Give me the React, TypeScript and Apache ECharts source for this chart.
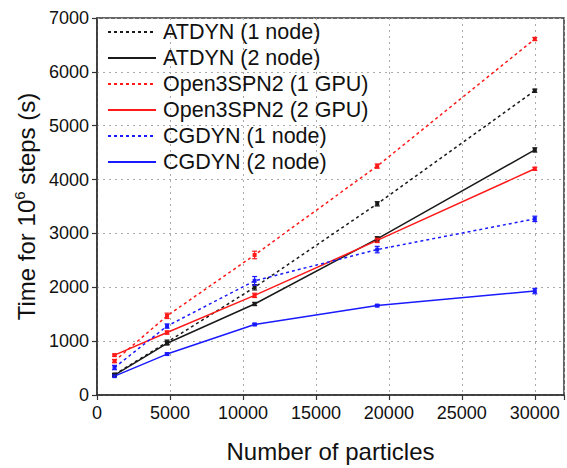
import React, { useEffect, useRef } from 'react';
import * as echarts from 'echarts';

const particles = [1200, 4800, 10800, 19200, 30000];
const seriesNames = [
  'ATDYN (1 node)',
  'ATDYN (2 node)',
  'Open3SPN2 (1 GPU)',
  'Open3SPN2 (2 GPU)',
  'CGDYN (1 node)',
  'CGDYN (2 node)',
];
const atdyn1 = [380, 980, 2000, 3550, 5650];
const atdyn2 = [370, 960, 1690, 2900, 4550];
const open1 = [630, 1470, 2600, 4250, 6610];
const open2 = [740, 1160, 1850, 2870, 4200];
const cgdyn1 = [510, 1280, 2120, 2700, 3270];
const cgdyn2 = [350, 760, 1310, 1660, 1930];
const atdyn1Err = [20, 40, 50, 40, 30];
const atdyn2Err = [20, 30, 30, 40, 40];
const open1Err = [30, 50, 70, 40, 30];
const open2Err = [20, 30, 40, 40, 30];
const cgdyn1Err = [40, 40, 80, 60, 50];
const cgdyn2Err = [20, 20, 20, 20, 50];
const xTicks = [0, 5000, 10000, 15000, 20000, 25000, 30000];

const values = [atdyn1, atdyn2, open1, open2, cgdyn1, cgdyn2];
const errors = [atdyn1Err, atdyn2Err, open1Err, open2Err, cgdyn1Err, cgdyn2Err];
const colors = ['#1a1a1a', '#1a1a1a', '#ff1a1a', '#ff1a1a', '#1a1aff', '#1a1aff'];
const dotted = [true, false, true, false, true, false];

const FONT = "'Liberation Sans', Arial, Helvetica, sans-serif";

export default function App() {
  const ref = useRef<HTMLDivElement>(null);
  useEffect(() => {
    if (!ref.current) return;
    const chart = echarts.init(ref.current, null, { renderer: 'svg' });
    const lineSeries = seriesNames.map((name, i) => ({
      name,
      type: 'line',
      data: particles.map((x, j) => [x, values[i][j]]),
      symbol: 'rect',
      symbolSize: 4,
      itemStyle: { color: colors[i] },
      lineStyle: {
        color: colors[i],
        width: 1.5,
        type: dotted[i] ? [3, 3] : 'solid',
      },
      z: 3,
    }));
    const errSeries = seriesNames.map((name, i) => ({
      type: 'custom',
      name: name + ' err',
      data: particles.map((x, j) => [x, values[i][j], errors[i][j]]),
      z: 4,
      renderItem: (params: any, api: any) => {
        const x = api.value(0);
        const y = api.value(1);
        const e = api.value(2);
        const top = api.coord([x, y + e]);
        const bot = api.coord([x, y - e]);
        const cap = 2.5;
        const st = { stroke: colors[i], lineWidth: 1.2 };
        return {
          type: 'group',
          children: [
            { type: 'line', shape: { x1: top[0], y1: top[1], x2: bot[0], y2: bot[1] }, style: st },
            { type: 'line', shape: { x1: top[0] - cap, y1: top[1], x2: top[0] + cap, y2: top[1] }, style: st },
            { type: 'line', shape: { x1: bot[0] - cap, y1: bot[1], x2: bot[0] + cap, y2: bot[1] }, style: st },
          ],
        };
      },
    }));
    chart.setOption({
      animation: false,
      backgroundColor: '#fff',
      grid: {
        left: 97,
        right: 2,
        top: 18,
        bottom: 73,
        show: true,
        borderColor: '#333',
        borderWidth: 1.5,
        backgroundColor: 'transparent',
      },
      legend: {
        data: seriesNames,
        orient: 'vertical',
        left: 107,
        top: 21,
        padding: 0,
        itemWidth: 48,
        itemHeight: 14,
        itemGap: 4,
        itemStyle: { opacity: 0 },
        textStyle: { fontSize: 21.5, fontFamily: FONT, color: '#111', lineHeight: 22, padding: [0, 0, 0, 2] },
        selectedMode: false,
      },
      xAxis: {
        type: 'value',
        min: 0,
        max: 32000,
        interval: 5000,
        name: 'Number of particles',
        nameLocation: 'middle',
        nameGap: 44,
        nameTextStyle: { fontSize: 24, fontFamily: FONT, color: '#111' },
        axisLine: { show: true, onZero: false, lineStyle: { color: '#333', width: 1.5 } },
        axisTick: { show: true, inside: false, length: 5, lineStyle: { color: '#333', width: 1.2 } },
        axisLabel: {
          fontSize: 18,
          fontFamily: FONT,
          color: '#111',
          margin: 9,
          formatter: (v: number) => (xTicks.includes(v) ? String(v) : ''),
        },
        splitLine: { show: true, lineStyle: { color: '#aaa', type: [2, 4], width: 1 } },
      },
      yAxis: {
        type: 'value',
        min: 0,
        max: 7000,
        interval: 1000,
        name: '{t|Time for 10}{s|6}{t| steps (s)}',
        nameLocation: 'middle',
        nameRotate: 90,
        nameGap: 56,
        nameTextStyle: {
          fontSize: 24,
          fontFamily: FONT,
          color: '#111',
          rich: {
            t: { fontSize: 24, fontFamily: FONT, color: '#111', lineHeight: 28 },
            s: { fontSize: 15, fontFamily: FONT, color: '#111', verticalAlign: 'top', lineHeight: 28 },
          },
        },
        axisLine: { show: true, lineStyle: { color: '#333', width: 1.5 } },
        axisTick: { show: true, inside: false, length: 5, lineStyle: { color: '#333', width: 1.2 } },
        axisLabel: { fontSize: 18, fontFamily: FONT, color: '#111', margin: 8, formatter: (v: number) => String(v) },
        splitLine: { show: true, lineStyle: { color: '#aaa', type: [2, 4], width: 1 } },
      },
      series: [...lineSeries, ...errSeries],
    });
    return () => chart.dispose();
  }, []);
  return <div ref={ref} style={{ width: 567, height: 468, position: 'absolute', left: 0, top: 0 }} />;
}
